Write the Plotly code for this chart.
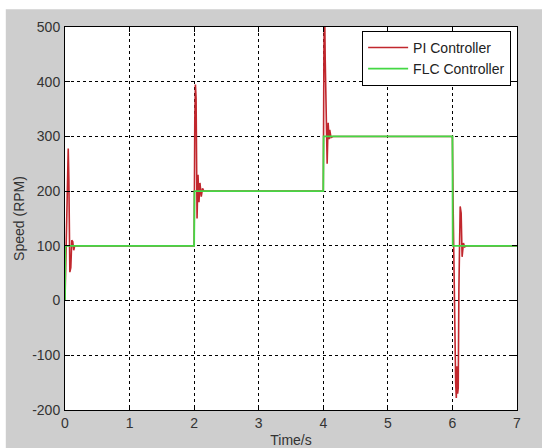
import plotly.graph_objects as go

# ---- data ----
pi_time = [0.0, 0.01, 0.025, 0.04, 0.05, 0.06, 0.075, 0.09, 0.105, 0.12, 0.135, 0.15, 0.2,
           2.0, 2.01, 2.02, 2.03, 2.045, 2.06, 2.075, 2.09, 2.11, 2.13, 2.15, 2.2,
           4.0, 4.01, 4.02, 4.03, 4.045, 4.06, 4.075, 4.09, 4.1, 4.12, 4.15, 4.2,
           6.0, 6.01, 6.03, 6.05, 6.06, 6.07, 6.08, 6.09, 6.1, 6.11, 6.12, 6.135, 6.15, 6.17, 6.19, 6.22, 7.0]
pi_speed = [0, 60, 160, 255, 278, 220, 52, 60, 110, 108, 92, 100, 100,
            100, 330, 395, 370, 150, 230, 180, 215, 190, 205, 200, 200,
            200, 460, 540, 440, 330, 250, 325, 295, 312, 298, 300, 300,
            300, 180, -20, -150, -178, -120, -170, -160, 20, 150, 172, 160, 80, 105, 98, 100, 100]

flc_time = [0.0, 0.005, 2.0, 2.005, 4.0, 4.005, 6.0, 6.005, 7.0]
flc_speed = [0, 100, 100, 200, 200, 300, 300, 100, 100]

x_ticks = [0, 1, 2, 3, 4, 5, 6, 7]
y_ticks = [-200, -100, 0, 100, 200, 300, 400, 500]

FONT = "Liberation Sans"

fig = go.Figure()
fig.add_trace(go.Scatter(x=pi_time, y=pi_speed, mode="lines", name="PI Controller",
                         line=dict(color="#c1272d", width=1.6)))
fig.add_trace(go.Scatter(x=flc_time, y=flc_speed, mode="lines", name="FLC Controller",
                         line=dict(color="#44d844", width=1.8)))

axis_common = dict(showline=True, linecolor="black", linewidth=1, mirror="allticks",
                   ticks="inside", ticklen=5, tickcolor="black", automargin=False,
                   showgrid=True, gridcolor="black", gridwidth=1, griddash="3px,3px",
                   zeroline=False, tickfont=dict(family=FONT, size=14, color="#333333"))

fig.update_xaxes(range=[0, 7], tickvals=x_ticks, ticktext=[str(v) for v in x_ticks],
                 title=dict(text="Time/s", font=dict(family=FONT, size=14, color="#333333"), standoff=7),
                 **axis_common)
fig.update_yaxes(range=[-200, 500], tickvals=y_ticks, ticktext=[str(v) for v in y_ticks],
                 ticklabelstandoff=1,
                 title=dict(text="Speed (RPM)", font=dict(family=FONT, size=14, color="#333333"), standoff=4),
                 **axis_common)

fig.update_layout(
    width=542, height=448,
    margin=dict(l=64.5, r=24.5, t=26.7, b=38, autoexpand=False),
    paper_bgcolor="#cecece", plot_bgcolor="white",
    font=dict(family=FONT, size=14, color="#333333"),
    showlegend=True,
    legend=dict(x=0.987, y=0.99, xanchor="right", yanchor="top",
                bgcolor="white", bordercolor="black", borderwidth=1,
                font=dict(family=FONT, size=14, color="#222222"),
                tracegroupgap=0, itemwidth=40),
    shapes=[
        dict(type="rect", xref="paper", yref="paper", x0=-0.3, x1=1.3, y0=1.0462, y1=1.3,
             fillcolor="white", line=dict(width=0), layer="above"),
        dict(type="rect", xref="paper", yref="paper", x0=-0.3, x1=-0.1310, y0=-0.3, y1=1.3,
             fillcolor="white", line=dict(width=0), layer="above"),
    ],
)

fig.write_html("out.html", config={"displayModeBar": False},
               post_script="document.body.style.margin='0';document.body.style.padding='0';")
